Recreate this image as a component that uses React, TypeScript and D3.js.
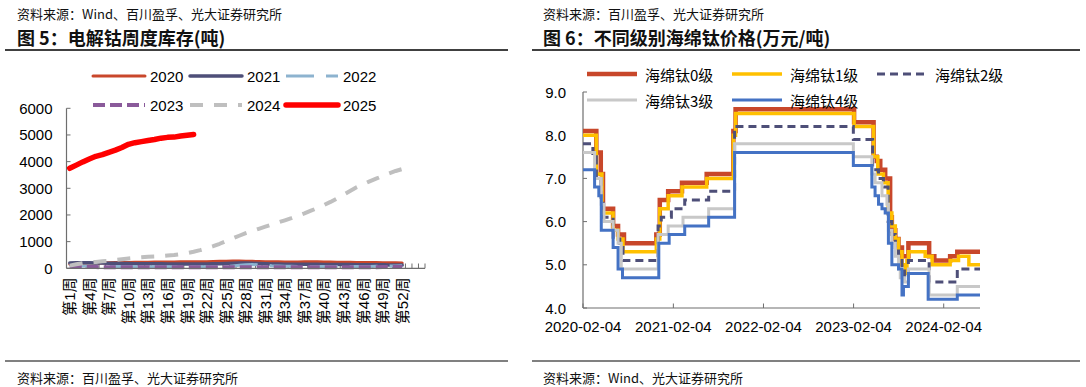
import * as d3 from "d3";
import { useEffect, useRef } from "react";

// ---- 图5：电解钴周度库存(吨) ----
const weekLabels = d3.range(1, 56).map((w) => `第${w}周`);

const inv2020 = [150, 160, 170, 180, 190, 200, 210, 215, 220, 220, 225, 230, 230, 235, 235, 240, 240, 245, 245, 250, 250, 250, 255, 260, 265, 270, 270, 265, 260, 255, 250, 245, 245, 240, 240, 240, 245, 250, 245, 240, 235, 230, 225, 225, 220, 220, 215, 215, 210, 210, 205, 200];
const inv2021 = [200, 205, 210, 205, 200, 195, 190, 185, 180, 180, 175, 175, 170, 170, 170, 165, 165, 165, 160, 160, 160, 165, 170, 175, 180, 190, 195, 200, 190, 180, 170, 165, 160, 155, 155, 150, 150, 150, 150, 145, 145, 140, 140, 140, 135, 135, 130, 130, 130, 125, 125, 120];
const inv2022 = [100, 95, 90, 85, 80, 75, 70, 70, 65, 65, 60, 60, 60, 62, 60, 58, 60, 60, 62, 60, 60, 60, 60, 65, 70, 90, 110, 130, 140, 135, 120, 100, 90, 80, 75, 70, 70, 72, 70, 70, 68, 70, 70, 72, 70, 70, 70, 75, 80, 85, 90, 95];
const inv2023 = [60, 55, 50, 45, 45, 42, 40, 40, 38, 40, 40, 42, 40, 40, 38, 40, 40, 40, 42, 40, 40, 38, 40, 40, 42, 40, 40, 40, 38, 40, 40, 42, 40, 40, 40, 38, 40, 40, 42, 40, 40, 40, 38, 40, 40, 42, 40, 40, 45, 45, 50, 50];
const inv2024 = [100, 150, 190, 220, 240, 260, 280, 310, 340, 370, 390, 410, 430, 440, 460, 480, 500, 530, 570, 620, 680, 750, 830, 920, 1020, 1120, 1220, 1320, 1400, 1480, 1560, 1640, 1720, 1800, 1880, 1970, 2060, 2160, 2260, 2370, 2490, 2620, 2760, 2900, 3040, 3150, 3260, 3360, 3460, 3560, 3650, 3720];
const inv2025 = [3750, 3870, 3990, 4100, 4200, 4260, 4350, 4430, 4530, 4650, 4710, 4750, 4790, 4830, 4880, 4910, 4920, 4960, 4990, 5020];

const invYTicks = [0, 1000, 2000, 3000, 4000, 5000, 6000];

const invSeries = [
  { name: "2020", values: inv2020, color: "#C9472B", width: 3, dash: "" },
  { name: "2021", values: inv2021, color: "#4E4F78", width: 3.5, dash: "" },
  { name: "2022", values: inv2022, color: "#8DB3CF", width: 3, dash: "28,12" },
  { name: "2023", values: inv2023, color: "#8A5A9A", width: 4, dash: "12,5" },
  { name: "2024", values: inv2024, color: "#BFBFBF", width: 4, dash: "13,11" },
  { name: "2025", values: inv2025, color: "#FF0000", width: 5.5, dash: "" },
];

// ---- 图6：不同级别海绵钛价格(万元/吨) ----
const grade0: [string, number][] = [
  ["2020-02-04", 8.1], ["2020-03-29", 7.6], ["2020-04-16", 7.1], ["2020-04-25", 6.3],
  ["2020-06-05", 5.9], ["2020-06-25", 5.7], ["2020-07-19", 5.5], ["2020-11-27", 5.7],
  ["2020-12-11", 6.5], ["2021-01-14", 6.7], ["2021-03-11", 6.9], ["2021-06-19", 7.1],
  ["2021-10-05", 8.1], ["2021-10-14", 8.6], ["2023-02-06", 8.3], ["2023-04-26", 7.5],
  ["2023-05-09", 7.4], ["2023-05-23", 7.2], ["2023-06-12", 7.0], ["2023-07-02", 6.1],
  ["2023-07-09", 5.8], ["2023-07-23", 5.6], ["2023-08-05", 5.4], ["2023-08-19", 5.2],
  ["2023-09-14", 5.5], ["2023-12-07", 5.2], ["2023-12-28", 5.1], ["2024-03-01", 5.2],
  ["2024-03-30", 5.3], ["2024-06-30", 5.3],
];
const grade1: [string, number][] = [
  ["2020-02-04", 8.0], ["2020-03-29", 7.1], ["2020-04-21", 6.2], ["2020-06-05", 5.8],
  ["2020-06-25", 5.6], ["2020-07-15", 5.3], ["2020-11-27", 5.6], ["2020-12-11", 6.3],
  ["2021-01-14", 6.6], ["2021-03-11", 6.8], ["2021-06-19", 7.0], ["2021-10-05", 8.0],
  ["2021-10-14", 8.5], ["2023-02-06", 8.2], ["2023-04-26", 7.5], ["2023-05-13", 7.1],
  ["2023-06-05", 6.9], ["2023-06-24", 6.2], ["2023-07-09", 5.9], ["2023-07-23", 5.6],
  ["2023-08-05", 5.3], ["2023-08-19", 5.0], ["2023-09-01", 4.8], ["2023-09-08", 5.1],
  ["2023-09-14", 5.3], ["2023-11-21", 5.2], ["2023-12-19", 5.0], ["2024-03-01", 5.1],
  ["2024-04-04", 5.2], ["2024-05-16", 5.0], ["2024-06-30", 5.0],
];
const grade2: [string, number][] = [
  ["2020-02-04", 7.8], ["2020-03-15", 7.5], ["2020-03-29", 7.0], ["2020-04-17", 6.5],
  ["2020-04-25", 6.1], ["2020-06-05", 5.6], ["2020-07-02", 5.4], ["2020-07-15", 5.1],
  ["2020-12-04", 5.9], ["2020-12-17", 6.1], ["2021-01-27", 6.3], ["2021-03-22", 6.5],
  ["2021-06-27", 6.7], ["2021-10-10", 8.2], ["2023-02-03", 7.9], ["2023-04-22", 7.2],
  ["2023-05-16", 7.0], ["2023-06-05", 6.8], ["2023-06-24", 6.0], ["2023-07-09", 5.7],
  ["2023-07-23", 5.4], ["2023-08-05", 5.1], ["2023-08-19", 4.9], ["2023-08-29", 4.7],
  ["2023-09-14", 5.1], ["2023-12-07", 4.6], ["2024-03-30", 4.9], ["2024-06-30", 4.9],
];
const grade3: [string, number][] = [
  ["2020-02-04", 7.6], ["2020-03-22", 7.0], ["2020-04-18", 6.4], ["2020-04-29", 6.0],
  ["2020-06-05", 5.8], ["2020-06-25", 5.5], ["2020-07-08", 4.9], ["2020-12-04", 5.7],
  ["2021-01-14", 5.9], ["2021-03-15", 6.1], ["2021-06-27", 6.3], ["2021-10-10", 7.8],
  ["2023-02-03", 7.5], ["2023-04-19", 7.1], ["2023-05-02", 6.9], ["2023-05-30", 6.6],
  ["2023-06-19", 6.4], ["2023-06-25", 5.8], ["2023-07-09", 5.5], ["2023-07-23", 5.2],
  ["2023-08-05", 4.9], ["2023-08-12", 4.7], ["2023-08-29", 4.6], ["2023-09-14", 4.9],
  ["2023-12-07", 4.3], ["2024-03-30", 4.5], ["2024-06-30", 4.5],
];
const grade4: [string, number][] = [
  ["2020-02-04", 7.2], ["2020-03-22", 6.8], ["2020-04-08", 6.6], ["2020-04-18", 5.8],
  ["2020-06-05", 5.4], ["2020-06-25", 4.9], ["2020-07-13", 4.7], ["2020-12-07", 5.5],
  ["2021-01-18", 5.7], ["2021-03-22", 5.9], ["2021-06-27", 6.1], ["2021-10-10", 7.6],
  ["2023-02-03", 7.3], ["2023-04-19", 6.8], ["2023-05-02", 6.6], ["2023-05-16", 6.4],
  ["2023-05-30", 6.3], ["2023-06-12", 6.2], ["2023-06-25", 5.5], ["2023-07-09", 5.0],
  ["2023-08-05", 4.9], ["2023-08-19", 4.3], ["2023-08-25", 4.5], ["2023-09-14", 4.8],
  ["2023-12-03", 4.2], ["2024-03-30", 4.3], ["2024-06-30", 4.3],
];

const priceXTicks = ["2020-02-04", "2021-02-04", "2022-02-04", "2023-02-04", "2024-02-04"];
const priceYTicks = [4, 5, 6, 7, 8, 9];

const priceSeries = [
  { name: "海绵钛0级", data: grade0, color: "#C8472A", width: 4.5, dash: "" },
  { name: "海绵钛1级", data: grade1, color: "#FFC000", width: 3.5, dash: "" },
  { name: "海绵钛2级", data: grade2, color: "#4E4F78", width: 3, dash: "8,5" },
  { name: "海绵钛3级", data: grade3, color: "#C8C8C8", width: 3, dash: "" },
  { name: "海绵钛4级", data: grade4, color: "#4472C4", width: 3, dash: "" },
];

const FONT = "'Liberation Sans', Arial, 'Noto Sans CJK SC', sans-serif";
const CJK = "'Noto Sans CJK SC', 'Liberation Sans', sans-serif";
const AXIS = "#6e6e6e";

export default function App() {
  const svgRef = useRef<SVGSVGElement>(null);

  useEffect(() => {
    const svg = d3.select(svgRef.current);
    svg.selectAll("*").remove();
    svg.append("rect").attr("width", 1086).attr("height", 387).attr("fill", "#fff");

    // headers / footers
    const txt = (x: number, y: number, s: string, size: number, bold = false) =>
      svg.append("text").attr("x", x).attr("y", y).attr("dominant-baseline", "central")
        .attr("font-family", CJK).attr("font-size", size)
        .attr("font-weight", bold ? "bold" : "normal").attr("fill", "#111").text(s);

    txt(17, 13, "资料来源：Wind、百川盈孚、光大证券研究所", 13);
    txt(17, 37, "图 5：电解钴周度库存(吨)", 18, true);
    txt(543, 13, "资料来源：百川盈孚、光大证券研究所", 13);
    txt(543, 37, "图 6：不同级别海绵钛价格(万元/吨)", 18, true);
    txt(17, 377, "资料来源：百川盈孚、光大证券研究所", 13);
    txt(543, 377, "资料来源：Wind、光大证券研究所", 13);

    [[5, 508], [532, 1080]].forEach(([a, b]) => {
      svg.append("line").attr("x1", a).attr("x2", b).attr("y1", 50).attr("y2", 50)
        .attr("stroke", "#000").attr("stroke-width", 1.5);
      svg.append("line").attr("x1", a).attr("x2", b).attr("y1", 361).attr("y2", 361)
        .attr("stroke", "#808080").attr("stroke-width", 2);
    });

    // ===== left chart =====
    const x1 = d3.scaleBand().domain(weekLabels).range([66.5, 425]);
    const y1 = d3.scaleLinear().domain([0, 6000]).range([268.3, 108.3]);
    const left = svg.append("g");

    left.append("line").attr("x1", 66.5).attr("x2", 66.5).attr("y1", 108.3).attr("y2", 268.3)
      .attr("stroke", AXIS).attr("stroke-width", 1.2);
    invYTicks.forEach((t) => {
      left.append("line").attr("x1", 66.5).attr("x2", 70.5).attr("y1", y1(t)).attr("y2", y1(t))
        .attr("stroke", AXIS).attr("stroke-width", 1);
      left.append("text").attr("x", 52.5).attr("y", y1(t)).attr("text-anchor", "end")
        .attr("dominant-baseline", "central").attr("font-family", FONT).attr("font-size", 15)
        .text(t);
    });

    const bounds = weekLabels.map((w) => x1(w)!).concat([425]);
    bounds.slice(1).forEach((bx) => {
      left.append("line").attr("x1", bx).attr("x2", bx).attr("y1", 268.3).attr("y2", 263.5)
        .attr("stroke", AXIS).attr("stroke-width", 1);
    });

    weekLabels.forEach((w, i) => {
      if (i % 3 !== 0 || i > 51) return;
      const cx = x1(w)! + x1.bandwidth() / 2;
      left.append("text").attr("transform", `translate(${cx},277.5) rotate(-90)`)
        .attr("text-anchor", "end").attr("dominant-baseline", "central")
        .attr("font-family", FONT).attr("font-size", 15).text(w);
    });

    const invLine = d3.line<number>()
      .x((_, i) => x1(weekLabels[i])! + x1.bandwidth() / 2)
      .y((d) => y1(d));

    invSeries.forEach((s) => {
      left.append("path").attr("d", invLine(s.values)!).attr("fill", "none")
        .attr("stroke", s.color).attr("stroke-width", s.width)
        .attr("stroke-dasharray", s.dash || null)
        .attr("stroke-linejoin", "round").attr("stroke-linecap", s.dash ? "butt" : "round");
    });

    left.append("line").attr("x1", 66.5).attr("x2", 425).attr("y1", 268.3).attr("y2", 268.3)
      .attr("stroke", AXIS).attr("stroke-width", 1.2);

    const invLegendPos = [[93, 76], [190, 76], [286, 76], [93, 105], [190, 105], [286, 105]];
    invSeries.forEach((s, i) => {
      const [lx, ly] = invLegendPos[i];
      left.append("line").attr("x1", lx).attr("x2", lx + 52).attr("y1", ly).attr("y2", ly)
        .attr("stroke", s.color).attr("stroke-width", s.width)
        .attr("stroke-dasharray", s.dash || null).attr("stroke-linecap", s.dash ? "butt" : "round");
      left.append("text").attr("x", lx + 57).attr("y", ly).attr("dominant-baseline", "central")
        .attr("font-family", FONT).attr("font-size", 15).text(s.name);
    });

    // ===== right chart =====
    const parse = d3.timeParse("%Y-%m-%d");
    const x2 = d3.scaleTime().domain([parse("2020-02-04")!, parse("2024-06-30")!]).range([583, 980]);
    const y2 = d3.scaleLinear().domain([4, 9]).range([308, 92]);
    const right = svg.append("g");

    right.append("line").attr("x1", 583).attr("x2", 583).attr("y1", 92).attr("y2", 308)
      .attr("stroke", AXIS).attr("stroke-width", 1.2);
    priceYTicks.forEach((t) => {
      right.append("line").attr("x1", 583).attr("x2", 587).attr("y1", y2(t)).attr("y2", y2(t))
        .attr("stroke", AXIS).attr("stroke-width", 1);
      right.append("text").attr("x", 566).attr("y", y2(t)).attr("text-anchor", "end")
        .attr("dominant-baseline", "central").attr("font-family", FONT).attr("font-size", 15)
        .text(d3.format(".1f")(t));
    });

    const stepLine = d3.line<[string, number]>()
      .x((d) => x2(parse(d[0])!))
      .y((d) => y2(d[1]))
      .curve(d3.curveStepAfter);

    priceSeries.forEach((s) => {
      right.append("path").attr("d", stepLine(s.data)!).attr("fill", "none")
        .attr("stroke", s.color).attr("stroke-width", s.width)
        .attr("stroke-dasharray", s.dash || null).attr("stroke-linejoin", "miter");
    });

    right.append("line").attr("x1", 583).attr("x2", 980).attr("y1", 308).attr("y2", 308)
      .attr("stroke", AXIS).attr("stroke-width", 1.2);
    priceXTicks.forEach((t) => {
      const tx = x2(parse(t)!);
      right.append("line").attr("x1", tx).attr("x2", tx).attr("y1", 308).attr("y2", 303.5)
        .attr("stroke", AXIS).attr("stroke-width", 1);
      right.append("text").attr("x", tx).attr("y", 326).attr("text-anchor", "middle")
        .attr("dominant-baseline", "central").attr("font-family", FONT).attr("font-size", 15)
        .text(t);
    });

    const priceLegendPos = [[587, 74], [732, 74], [877, 74], [587, 100], [732, 100]];
    priceSeries.forEach((s, i) => {
      const [lx, ly] = priceLegendPos[i];
      right.append("line").attr("x1", lx).attr("x2", lx + 50).attr("y1", ly).attr("y2", ly)
        .attr("stroke", s.color).attr("stroke-width", s.width)
        .attr("stroke-dasharray", s.dash || null);
      right.append("text").attr("x", lx + 58).attr("y", ly).attr("dominant-baseline", "central")
        .attr("font-family", CJK).attr("font-size", 15).text(s.name);
    });
  }, []);

  return (
    <svg
      ref={svgRef}
      width={1086}
      height={387}
      style={{ position: "absolute", left: 0, top: 0 }}
    />
  );
}
